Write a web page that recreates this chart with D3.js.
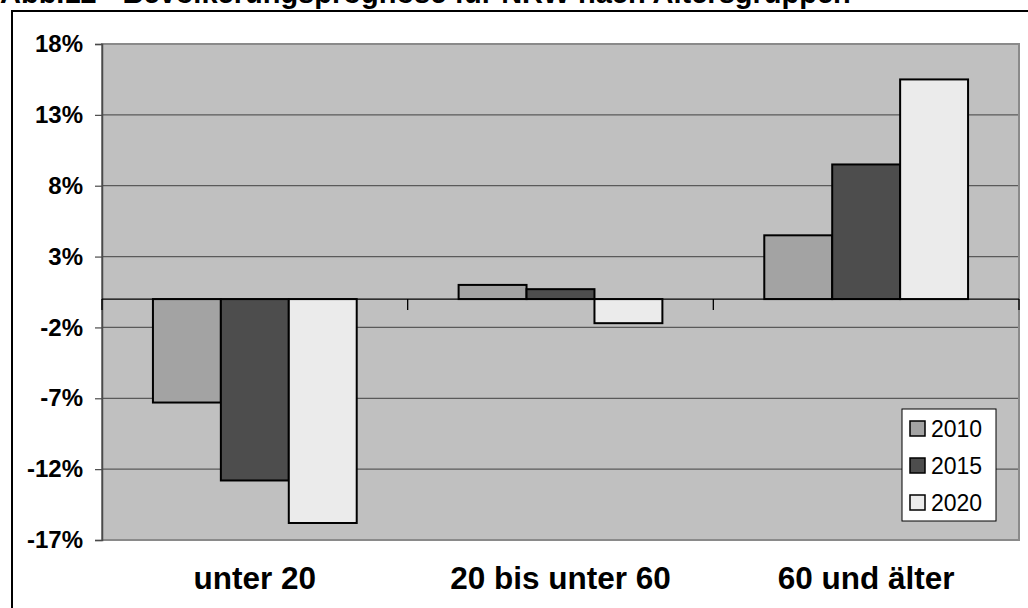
<!DOCTYPE html>
<html>
<head>
<meta charset="utf-8">
<script src="https://cdn.jsdelivr.net/npm/d3@7"></script>
<style>
  html, body { margin: 0; padding: 0; background: #ffffff; }
  svg { display: block; font-family: Arial, "Liberation Sans", Helvetica, sans-serif; }
</style>
</head>
<body>
<svg id="chart" width="1028" height="608"></svg>
<script>
// Age groups on the x axis
const categories = ["unter 20", "20 bis unter 60", "60 und älter"];
// Forecast years (series)
const years = ["2010", "2015", "2020"];
// Population change in percent per age group, one array per year
const values2010 = [-7.3, 1.0, 4.5];
const values2015 = [-12.8, 0.7, 9.5];
const values2020 = [-15.8, -1.7, 15.5];
// Y axis tick values
const yTicks = [-17, -12, -7, -2, 3, 8, 13, 18];

const title = "Abb.12 - Bevölkerungsprognose für NRW nach Altersgruppen";
const seriesValues = [values2010, values2015, values2020];
const colors = ["#a3a3a3", "#4d4d4d", "#ebebeb"];

const svg = d3.select("#chart");

// Outer chart frame
svg.append("rect")
  .attr("x", 12).attr("y", 11)
  .attr("width", 1040).attr("height", 620)
  .attr("fill", "#ffffff")
  .attr("stroke", "#000000").attr("stroke-width", 2);

// Title (runs over the top edge of the page)
svg.append("text")
  .attr("x", 0).attr("y", 3)
  .attr("font-size", 29).attr("font-weight", "bold")
  .attr("fill", "#000")
  .text(title);

const plot = { left: 102, right: 1019, top: 44, bottom: 540 };

const y = d3.scaleLinear().domain([-17, 18]).range([plot.bottom, plot.top]);
const x = d3.scaleBand().domain(categories).range([plot.left, plot.right]).paddingInner(0).paddingOuter(0);
const bw = x.bandwidth();
const xs = d3.scaleBand().domain(years).range([bw / 6, bw * 5 / 6]).padding(0);

// Plot area background
svg.append("rect")
  .attr("x", plot.left).attr("y", plot.top)
  .attr("width", plot.right - plot.left).attr("height", plot.bottom - plot.top)
  .attr("fill", "#c0c0c0");

// Horizontal gridlines
svg.append("g")
  .selectAll("line")
  .data(yTicks)
  .join("line")
  .attr("x1", plot.left).attr("x2", plot.right)
  .attr("y1", d => y(d)).attr("y2", d => y(d))
  .attr("stroke", "#5a5a5a").attr("stroke-width", 1.2);

// Plot area border
svg.append("rect")
  .attr("x", plot.left).attr("y", plot.top)
  .attr("width", plot.right - plot.left).attr("height", plot.bottom - plot.top)
  .attr("fill", "none")
  .attr("stroke", "#8a8a8a").attr("stroke-width", 2);

// Y axis
const yAxis = svg.append("g")
  .attr("transform", `translate(${plot.left},0)`)
  .call(d3.axisLeft(y).tickValues(yTicks).tickSize(7).tickPadding(12).tickFormat(d => d + "%"));
yAxis.select(".domain").attr("stroke", "#4a4a4a").attr("stroke-width", 1.5);
yAxis.selectAll(".tick line").attr("stroke", "#4a4a4a").attr("stroke-width", 1.2);
yAxis.selectAll(".tick text")
  .attr("font-size", 24).attr("font-weight", "bold").attr("fill", "#000")
  .attr("font-family", "Arial, 'Liberation Sans', sans-serif");

// Bars
const groups = svg.append("g")
  .selectAll("g")
  .data(categories)
  .join("g")
  .attr("transform", d => `translate(${x(d)},0)`);

groups.selectAll("rect")
  .data((c, i) => years.map((yr, j) => ({ year: yr, value: seriesValues[j][i], color: colors[j] })))
  .join("rect")
  .attr("x", d => xs(d.year))
  .attr("width", xs.bandwidth())
  .attr("y", d => y(Math.max(0, d.value)))
  .attr("height", d => Math.abs(y(d.value) - y(0)))
  .attr("fill", d => d.color)
  .attr("stroke", "#000").attr("stroke-width", 2);

// Zero line with category separators
const xAxis = svg.append("g")
  .attr("transform", `translate(0,${y(0)})`);
xAxis.append("line")
  .attr("x1", plot.left).attr("x2", plot.right)
  .attr("stroke", "#000").attr("stroke-width", 1.3);
const sep = categories.map(c => x(c)).concat([x(categories[categories.length - 1]) + bw]);
xAxis.selectAll("line.sep")
  .data(sep)
  .join("line")
  .attr("class", "sep")
  .attr("x1", d => d).attr("x2", d => d)
  .attr("y1", 0).attr("y2", 11)
  .attr("stroke", "#000").attr("stroke-width", 1.3);

// Category labels below the plot
svg.append("g")
  .selectAll("text")
  .data(categories)
  .join("text")
  .attr("x", d => x(d) + bw / 2)
  .attr("y", 589)
  .attr("text-anchor", "middle")
  .attr("font-size", 31.5).attr("font-weight", "bold")
  .attr("fill", "#000")
  .text(d => d);

// Legend
const legend = svg.append("g").attr("transform", "translate(902,409)");
legend.append("rect")
  .attr("width", 94).attr("height", 112)
  .attr("fill", "#ffffff")
  .attr("stroke", "#000").attr("stroke-width", 1);
const items = legend.selectAll("g.item")
  .data(years)
  .join("g")
  .attr("class", "item")
  .attr("transform", (d, i) => `translate(8,${12 + i * 37})`);
items.append("rect")
  .attr("width", 15).attr("height", 15)
  .attr("fill", (d, i) => colors[i])
  .attr("stroke", "#000").attr("stroke-width", 1.5);
items.append("text")
  .attr("x", 21).attr("y", 15.5)
  .attr("font-size", 23)
  .attr("fill", "#000")
  .text(d => d);
</script>
</body>
</html>
